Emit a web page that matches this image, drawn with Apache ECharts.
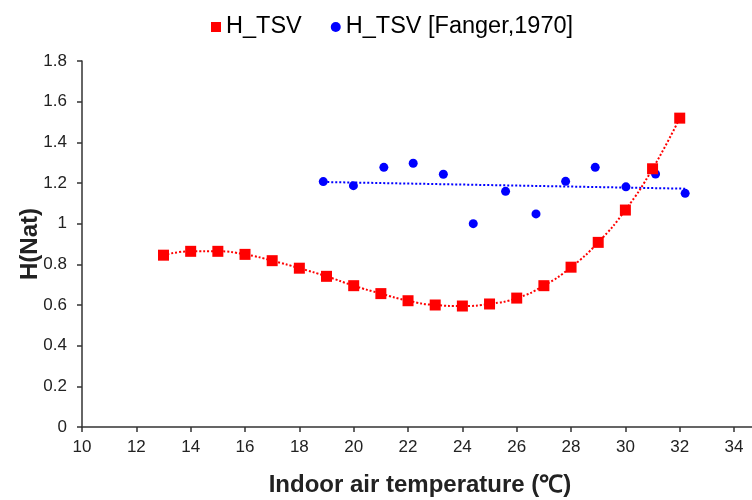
<!DOCTYPE html>
<html>
<head>
<meta charset="utf-8">
<script src="https://cdn.jsdelivr.net/npm/echarts@6/dist/echarts.min.js"></script>
<style>html,body{margin:0;padding:0;background:#fff}#c{width:752px;height:500px}</style>
</head>
<body>
<div id="c"></div>
<script>
// Data
const tsvX = [13,14,15,16,17,18,19,20,21,22,23,24,25,26,27,28,29,30,31,32];
const tsvY = [0.845,0.864,0.864,0.849,0.818,0.781,0.741,0.695,0.656,0.621,0.600,0.595,0.605,0.634,0.695,0.786,0.908,1.067,1.270,1.519];
const fangerX = [18.88,19.99,21.11,22.19,23.30,24.40,25.59,26.71,27.80,28.89,30.02,31.11,32.20];
const fangerY = [1.207,1.187,1.277,1.297,1.243,1.000,1.159,1.048,1.208,1.277,1.181,1.244,1.149];
const fangerTrendX = [18.88,32.20];
const fangerTrendY = [1.205,1.172];
const xTicks = [10,12,14,16,18,20,22,24,26,28,30,32,34];
const yTicks = [0,0.2,0.4,0.6,0.8,1,1.2,1.4,1.6,1.8];

const zip = (a,b)=>a.map((v,i)=>[v,b[i]]);
const chart = echarts.init(document.getElementById('c'));
chart.setOption({
  animation:false,
  textStyle:{fontFamily:'Liberation Sans, Arial, sans-serif'},
  legend:{
    top:10, left:206, itemGap:29, itemWidth:10, itemHeight:10, itemStyle:{},
    textStyle:{fontSize:23.5,color:'#000',fontFamily:'Liberation Sans, Arial'},
    data:[{name:'H_TSV',icon:'rect'},{name:'H_TSV [Fanger,1970]',icon:'circle'}]
  },
  grid:{left:82,right:0,top:61,bottom:73,containLabel:false,outerBoundsMode:'none'},
  xAxis:{
    type:'value', min:10, max:34.66, interval:2,
    name:'Indoor air temperature (℃)', nameLocation:'middle', nameGap:46,
    nameTextStyle:{fontSize:24,fontWeight:'bold',color:'#222',padding:[0,0,0,6]},
    axisLine:{lineStyle:{color:'#333',width:1.5}},
    axisTick:{show:true,length:5,lineStyle:{color:'#333',width:1.5}},
    axisLabel:{fontSize:17,color:'#222',margin:12,showMaxLabel:false,formatter:v=>xTicks.includes(v)?String(v):''},
    splitLine:{show:false}
  },
  yAxis:{
    type:'value', min:0, max:1.8, interval:0.2,
    name:'H(Nat)', nameLocation:'middle', nameGap:40, nameMoveOverlap:false,
    nameTextStyle:{fontSize:24,fontWeight:'bold',color:'#222'},
    axisLine:{show:true,lineStyle:{color:'#333',width:1.5}},
    axisTick:{show:true,length:5,lineStyle:{color:'#333',width:1.5}},
    axisLabel:{fontSize:17,color:'#222',margin:15,formatter:v=>{const t=yTicks.find(y=>Math.abs(y-v)<1e-6);return t===undefined?'':String(t);}},
    splitLine:{show:false}
  },
  series:[
    {name:'H_TSV',type:'line',data:zip(tsvX,tsvY),smooth:0.5,symbol:'rect',symbolSize:11,
     itemStyle:{color:'#ff0000',opacity:1},lineStyle:{color:'#ff0000',width:2,type:[2,2]}},
    {name:'H_TSV [Fanger,1970]',type:'scatter',data:zip(fangerX,fangerY),symbol:'circle',symbolSize:9,
     itemStyle:{color:'#0000ff',opacity:1}},
    {name:'trend',type:'line',data:zip(fangerTrendX,fangerTrendY),symbol:'none',silent:true,z:1,
     lineStyle:{color:'#0000ff',width:2,type:[2,2]}}
  ]
});
</script>
</body>
</html>
